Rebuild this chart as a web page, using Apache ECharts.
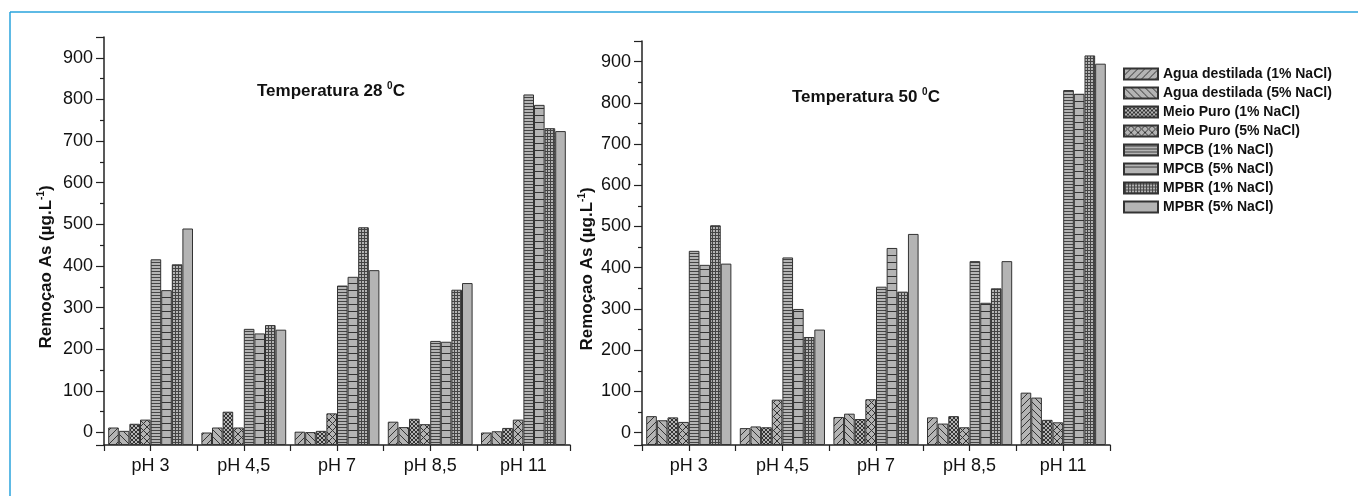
<!DOCTYPE html>
<html>
<head>
<meta charset="utf-8">
<script src="https://cdn.jsdelivr.net/npm/echarts@6/dist/echarts.min.js"></script>
<style>
html, body { margin: 0; padding: 0; background: #fff; }
#chart { width: 1358px; height: 496px; }
</style>
</head>
<body>
<div id="chart"></div>
<script>
var categories = ['pH 3', 'pH 4,5', 'pH 7', 'pH 8,5', 'pH 11'];
var seriesNames = [
    'Agua destilada (1% NaCl)', 'Agua destilada (5% NaCl)',
    'Meio Puro (1% NaCl)', 'Meio Puro (5% NaCl)',
    'MPCB (1% NaCl)', 'MPCB (5% NaCl)',
    'MPBR (1% NaCl)', 'MPBR (5% NaCl)'
];

// Temperatura 28 C
var agua1_28 = [12, 0, 2, 26, 0];
var agua5_28 = [4, 12, 1, 13, 3];
var puro1_28 = [21, 50, 4, 33, 11];
var puro5_28 = [31, 12, 46, 20, 31];
var mpcb1_28 = [416, 249, 353, 220, 812];
var mpcb5_28 = [342, 238, 374, 218, 787];
var mpbr1_28 = [404, 258, 493, 343, 731];
var mpbr5_28 = [490, 247, 390, 359, 724];

// Temperatura 50 C
var agua1_50 = [40, 11, 38, 37, 97];
var agua5_50 = [30, 15, 46, 22, 85];
var puro1_50 = [37, 13, 33, 40, 31];
var puro5_50 = [26, 80, 81, 13, 25];
var mpcb1_50 = [441, 425, 354, 416, 831];
var mpcb5_50 = [407, 300, 448, 315, 822];
var mpbr1_50 = [503, 232, 342, 350, 915];
var mpbr5_50 = [410, 250, 482, 416, 895];

var yMin = -30, yMax = 950;

var FONT = "'Liberation Sans', Arial, sans-serif";
var GRAY = '#b4b4b4';
var INK = '#222';

// hatch fills for the bars
function pattern(kind) {
    if (kind === 'plain') return GRAY;
    var c = document.createElement('canvas');
    var w = 7, h = 7;
    if (kind === 'cross4') { w = 4; h = 4; }
    if (kind === 'hdense') { w = 4; h = 3; }
    if (kind === 'grid') { w = 3; h = 3; }
    c.width = w; c.height = h;
    var ctx = c.getContext('2d');
    ctx.fillStyle = GRAY;
    ctx.fillRect(0, 0, w, h);
    ctx.strokeStyle = '#333';
    ctx.lineWidth = 1;
    ctx.beginPath();
    function fwd() {
        ctx.moveTo(-1, h + 1); ctx.lineTo(w + 1, -1);
        ctx.moveTo(-1, 1); ctx.lineTo(1, -1);
        ctx.moveTo(w - 1, h + 1); ctx.lineTo(w + 1, h - 1);
    }
    function back() {
        ctx.moveTo(-1, -1); ctx.lineTo(w + 1, h + 1);
        ctx.moveTo(-1, h - 1); ctx.lineTo(1, h + 1);
        ctx.moveTo(w - 1, -1); ctx.lineTo(w + 1, 1);
    }
    if (kind === 'fwd') fwd();
    if (kind === 'back') back();
    if (kind === 'cross4' || kind === 'cross7') { fwd(); back(); }
    if (kind === 'hdense') { ctx.strokeStyle = '#444'; ctx.moveTo(0, 1.5); ctx.lineTo(w, 1.5); }
    if (kind === 'hsparse') { ctx.moveTo(0, 3.5); ctx.lineTo(w, 3.5); }
    if (kind === 'grid') { ctx.strokeStyle = '#444'; ctx.moveTo(0, 1.5); ctx.lineTo(w, 1.5); ctx.moveTo(1.5, 0); ctx.lineTo(1.5, h); }
    ctx.stroke();
    return { image: c, repeat: 'repeat' };
}

var fills = ['fwd', 'back', 'cross4', 'cross7', 'hdense', 'hsparse', 'grid', 'plain'].map(pattern);
var data28 = [agua1_28, agua5_28, puro1_28, puro5_28, mpcb1_28, mpcb5_28, mpbr1_28, mpbr5_28];
var data50 = [agua1_50, agua5_50, puro1_50, puro5_50, mpcb1_50, mpcb5_50, mpbr1_50, mpbr5_50];

var dom = document.getElementById('chart');
var myChart = echarts.init(dom, null, { renderer: 'canvas' });

function catAxis(gi) {
    return {
        type: 'category', gridIndex: gi, data: categories, position: 'bottom',
        axisLine: { onZero: false, lineStyle: { color: INK, width: 1.5 } },
        axisTick: { show: false },
        axisLabel: { color: '#111', fontSize: 18, fontFamily: FONT, margin: 12 }
    };
}
function tickAxis(gi) {
    // only draws the small ticks at group centres and boundaries
    return {
        type: 'value', gridIndex: gi, min: 0, max: 10, interval: 1, position: 'bottom',
        axisLine: { show: false, onZero: false }, axisLabel: { show: false }, splitLine: { show: false },
        axisTick: { show: true, length: 6, lineStyle: { color: INK, width: 1.2 } }
    };
}
function valAxis(gi, gap) {
    return {
        type: 'value', gridIndex: gi, min: yMin, max: yMax, splitNumber: 10,
        startValue: yMin,
        name: '{a|Remoçao As (µg.L}{s|-1}{a|)}',
        nameLocation: 'middle', nameGap: gap,
        nameTextStyle: {
            padding: [0, 52, 0, 0],
            rich: {
                a: { fontSize: 17, fontWeight: 'bold', fontFamily: FONT, color: '#111', lineHeight: 20 },
                s: { fontSize: 10, fontWeight: 'bold', fontFamily: FONT, color: '#111', verticalAlign: 'top', lineHeight: 12 }
            }
        },
        axisLine: { show: true, onZero: false, lineStyle: { color: INK, width: 1.5 } },
        axisTick: { show: true, length: 8, lineStyle: { color: INK, width: 1.2 } },
        minorTick: { show: true, splitNumber: 2, length: 4, lineStyle: { color: INK, width: 1.2 } },
        splitLine: { show: false },
        axisLabel: { color: '#111', fontSize: 18, fontFamily: FONT, margin: 11, showMinLabel: false, showMaxLabel: false }
    };
}

var series = [];
[data28, data50].forEach(function (set, gi) {
    set.forEach(function (vals, i) {
        series.push({
            name: seriesNames[i], type: 'bar',
            xAxisIndex: gi, yAxisIndex: gi,
            data: vals,
            barGap: '0%', barCategoryGap: '9%',
            itemStyle: { color: fills[i], borderColor: '#333', borderWidth: 1 }
        });
    });
});

function titleText(t) {
    return {
        text: '{b|Temperatura ' + t + ' }{s|0}{b|C}',
        textStyle: {
            rich: {
                b: { fontSize: 17, fontWeight: 'bold', fontFamily: FONT, color: '#111', lineHeight: 20 },
                s: { fontSize: 10, fontWeight: 'bold', fontFamily: FONT, color: '#111', verticalAlign: 'top', lineHeight: 12 }
            }
        }
    };
}

var option = {
    animation: false,
    title: [
        Object.assign(titleText(28), { left: 252, top: 76 }),
        Object.assign(titleText(50), { left: 787, top: 82 })
    ],
    legend: {
        orient: 'vertical', left: 1118, top: 62,
        itemWidth: 34, itemHeight: 11, itemGap: 5,
        icon: 'rect',
        data: seriesNames,
        textStyle: { fontSize: 14, fontWeight: 'bold', fontFamily: FONT, color: '#111', lineHeight: 14 }
    },
    grid: [
        { left: 104, top: 37, width: 466, height: 408 },
        { left: 642, top: 41, width: 468, height: 404 }
    ],
    xAxis: [catAxis(0), catAxis(1), tickAxis(0), tickAxis(1)],
    yAxis: [valAxis(0, 48), valAxis(1, 45)],
    graphic: [
        { type: 'line', shape: { x1: 10, y1: 12, x2: 1358, y2: 12 }, style: { stroke: '#29a3dc', lineWidth: 1.5 } },
        { type: 'line', shape: { x1: 10, y1: 12, x2: 10, y2: 496 }, style: { stroke: '#29a3dc', lineWidth: 1.5 } }
    ],
    series: series
};

if (option && typeof option === 'object') {
    myChart.setOption(option);
}

window.addEventListener('resize', myChart.resize);
</script>
</body>
</html>
